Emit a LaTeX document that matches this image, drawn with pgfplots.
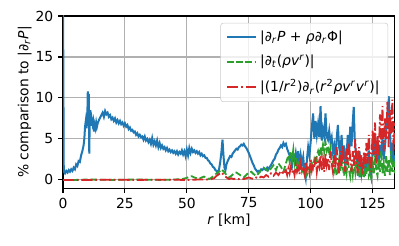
\documentclass[border=0pt]{standalone}
\usepackage{pgfplots}
\pgfplotsset{compat=1.18}
\usepackage{fontspec}
\setmainfont{DejaVu Sans}
\definecolor{mblue}{HTML}{1F77B4}
\definecolor{mgreen}{HTML}{2CA02C}
\definecolor{mred}{HTML}{D62728}
\begin{document}
\begin{tikzpicture}
\begin{axis}[
  scale only axis, width=239pt, height=124pt,
  xmin=0, xmax=134, ymin=-1, ymax=20,
  xtick={0,25,50,75,100,125}, ytick={0,5,10,15,20},
  tick align=outside, tick pos=left,
  major tick length=3.5pt,
  every tick/.style={black, line width=0.8pt},
  axis line style={line width=0.8pt},
  grid=major, major grid style={color=black!31, line width=0.8pt},
  /pgf/number format/assume math mode=true,
  tick label style={font=\fontsize{10}{12}\selectfont},
  xlabel={\textit{r} [km]}, ylabel={\% comparison to |∂\textsubscript{\textit{r}}\textit{P}|},
  label style={font=\fontsize{10}{12}\selectfont},
  xlabel style={yshift=3pt},
  ylabel style={yshift=-4pt},
  legend style={at={(0.98,0.96)}, anchor=north east, draw=black!20, fill=white, fill opacity=0.8, text opacity=1, rounded corners=2pt, font=\fontsize{10}{12}\selectfont, row sep=4.5pt, inner xsep=4pt, inner ysep=3.5pt},
  legend cell align=left,
  legend image code/.code={\draw[#1] (0pt,0pt) -- (21pt,0pt);},
]
\addplot[mblue, line width=1.45pt] coordinates {
(0,22) (0.3,1.0) (0.8,0.8) (1.3,1.1) (1.8,0.9) (2.3,1.2) (2.8,1.0) (3.3,1.3) (3.8,1.1) (4.3,1.5) (4.8,1.3) (5.3,1.9) (5.8,1.7) (6.3,2.3) (6.8,2.2) (7.3,3.0) (7.8,3.5) (8.3,4.2) (8.6,5.0) (8.9,6.5) (9.2,7.2) (9.5,6.3) (9.8,7.5) (10.0,10.8) (10.2,9.0) (10.4,10.5) (10.6,3.2) (10.8,7.8) (11.0,8.5) (11.3,6.6) (11.6,7.4) (11.9,6.8) (12.2,7.2) (12.5,5.9) (12.8,6.7) (13.1,6.3) (13.4,7.0) (13.7,6.5) (14.0,6.9) (14.5,7.3) (15.0,7.6) (15.5,7.9) (16.0,8.2) (16.5,7.7) (17.0,8.4) (17.5,8.0) (18.0,8.2) (18.5,7.7) (19.0,7.9) (19.5,7.4) (20.0,7.6) (20.5,7.2) (21.0,7.5) (21.5,7.0) (22.0,7.3) (22.5,6.9) (23.0,7.2) (23.5,6.8) (24.0,7.0) (24.5,6.6) (25.0,6.9) (25.5,6.5) (26.0,6.7) (26.5,6.2) (27.0,6.4) (27.5,6.0) (28.0,6.1) (28.5,5.8) (29.0,5.9) (29.5,5.5) (30.0,5.7) (30.5,5.3) (31.0,5.5) (31.5,5.2) (32.0,5.3) (32.5,4.9) (33.0,5.3) (33.5,4.8) (34.0,5.0) (34.5,4.6) (35.0,4.9) (35.5,4.4) (36.0,5.1) (36.5,4.3) (37.0,4.7) (37.5,4.2) (38.0,4.8) (38.5,4.0) (39.0,4.5) (39.5,3.9) (40.0,4.2) (40.5,3.8) (41.0,4.0) (41.5,3.6) (42.0,3.9) (42.5,3.5) (43.0,3.7) (43.5,3.4) (44.0,3.6) (44.5,3.3) (45.0,3.5) (45.5,3.2) (46.0,3.5) (46.5,3.1) (47.0,3.4) (47.5,3.2) (48.0,3.6) (48.5,3.1) (49.0,3.5) (49.5,2.9) (50.0,3.7) (50.5,3.0) (51.0,3.9) (51.5,3.3) (52.0,3.8) (52.5,3.4) (53.0,3.6) (53.5,3.3) (54.0,3.5) (54.5,3.2) (55.0,3.4) (55.5,3.0) (56.0,3.2) (56.5,2.9) (57.0,3.0) (57.5,2.7) (58.0,2.7) (58.5,2.4) (59.0,2.3) (59.5,2.0) (60.0,1.9) (60.5,1.6) (61.0,1.5) (61.5,1.2) (62.0,1.1) (62.5,0.8) (63.0,1.3) (63.5,2.2) (64.0,3.5) (64.4,4.9) (64.8,3.0) (65.2,1.5) (65.6,1.2) (66.0,1.9) (66.5,2.3) (67.0,2.6) (67.5,2.9) (68.0,2.8) (68.5,3.2) (69.0,3.4) (69.5,3.6) (70.0,3.8) (70.5,3.7) (71.0,4.0) (71.5,4.1) (72.0,4.3) (72.5,4.2) (73.0,4.4) (73.5,4.1) (74.0,3.9) (74.5,3.6) (75.0,3.3) (75.5,2.9) (76.0,2.5) (76.5,2.1) (77.0,1.8) (77.5,1.4) (78.0,1.2) (78.5,1.0) (79.0,1.1) (79.5,1.0) (80.0,1.3) (80.5,1.2) (81.0,1.4) (81.5,1.3) (82.0,1.2) (82.5,1.5) (83.0,1.3) (83.5,1.6) (84.0,1.8) (84.5,2.1) (85.0,2.4) (85.5,2.6) (86.0,3.1) (86.5,3.3) (87.0,3.7) (87.5,3.9) (88.0,4.2) (88.5,4.0) (89.0,4.5) (89.5,4.2) (90.0,4.4) (90.5,3.8) (91.0,3.4) (91.5,3.0) (92.0,2.6) (92.5,1.8) (93.0,3.0) (93.5,2.4) (94.0,3.3) (94.5,2.2) (95.0,3.5) (95.5,1.6) (96.0,3.0) (96.5,2.0) (97.0,2.8) (97.5,1.0) (98.0,0.2) (98.5,2.5) (99.0,4.0) (99.5,3.0) (100.0,4.6) (100.5,6.5) (101.0,8.1) (101.5,5.0) (102.0,7.2) (102.5,5.5) (103.0,6.8) (103.5,5.2) (104.0,9.0) (104.5,4.8) (105.0,6.2) (105.5,5.4) (106.0,8.1) (106.5,5.3) (107.0,4.9) (107.5,6.0) (108.0,4.6) (108.5,5.2) (109.0,3.4) (109.5,4.2) (110.0,2.6) (110.5,5.0) (111.0,6.7) (111.5,4.0) (112.0,3.1) (112.5,5.5) (113.0,2.4) (113.5,4.2) (114.0,1.6) (114.5,3.0) (115.0,5.5) (115.5,3.2) (116.0,6.5) (116.5,4.1) (117.0,7.0) (117.4,8.9) (117.8,5.0) (118.2,3.5) (118.6,2.2) (119.0,3.5) (119.5,1.4) (120.0,2.5) (120.5,0.8) (121.0,2.0) (121.5,1.8) (122.0,0.5) (122.5,2.5) (123.0,1.2) (123.5,3.6) (124.0,1.0) (124.3,0.6) (124.8,2.2) (125.2,4.3) (125.6,3.0) (126.0,5.5) (126.5,2.8) (127.0,3.5) (127.5,1.5) (128.0,4.3) (128.5,3.0) (129.0,5.0) (129.5,2.5) (130.0,4.0) (130.5,6.0) (131.0,8.0) (131.6,10.2) (132.0,6.5) (132.4,3.5) (132.8,2.2) (133.2,4.5) (133.6,1.8) (134,3.0)
};
\addlegendentry{|∂\textsubscript{\textit{r}}\textit{P} + \textit{ρ}∂\textsubscript{\textit{r}}Φ|}
\addplot[mgreen, line width=1.3pt, dash pattern=on 4.6pt off 2pt] coordinates {
(0,0) (5,0) (10,0.05) (20,0) (30,0.05) (40,0) (45,0.05) (48,0.1) (50,0.25) (51,0.4) (52,0.45) (53,0.3) (54,0.2) (55,0.15) (56,0.3) (57,0.4) (58,0.25) (59,0.1) (60,0.3) (61,0.5) (62,0.8) (63,1.0) (64,1.3) (65,1.0) (66,0.6) (67,0.3) (68,0.5) (69,0.8) (70,0.9) (71,0.7) (72,0.5) (73,0.3) (74,0.6) (75,0.9) (76,1.0) (77,0.7) (78,0.5) (79,0.8) (80,1.2) (81,1.5) (82,1.3) (83,1.0) (84,1.4) (85,1.8) (86,1.2) (87,2.0) (88,1.6) (89,1.0) (90,2.0) (91,3.0) (91.5,2.2) (92,3.4) (92.5,2.5) (93,3.7) (93.5,2.0) (94,2.8) (94.5,1.5) (95,2.4) (95.5,1.2) (96,2.0) (96.5,1.0) (97,1.4) (97.5,0.8) (98,1.2) (98.5,0.6) (99,1.0) (99.5,1.5) (100,0.8) (100.5,2.0) (101,1.5) (101.5,2.5) (102,2.0) (102.5,3.0) (103,3.5) (103.5,2.8) (104,4.0) (104.5,3.2) (105,4.3) (105.5,3.5) (106,4.6) (106.5,3.6) (107,4.2) (107.5,3.0) (108,3.8) (108.5,2.5) (109,2.2) (109.5,1.0) (110,1.6) (110.5,0.5) (111,1.2) (111.5,2.5) (112,1.0) (112.5,3.0) (113,1.5) (113.5,0.5) (114,1.8) (114.5,0.8) (115,2.6) (115.5,1.2) (116,0.4) (116.5,1.8) (117,0.6) (117.5,2.2) (118,1.0) (118.5,3.0) (119,0.5) (119.5,1.6) (120,0.3) (120.5,2.0) (121,0.8) (121.5,0.2) (122,1.5) (122.5,0.6) (123,2.4) (123.5,0.5) (124,1.0) (124.5,0.2) (125,2.0) (125.5,0.8) (126,3.0) (126.5,1.2) (127,0.5) (127.5,2.5) (128,1.0) (128.5,3.5) (129,0.8) (129.5,2.0) (130,0.5) (130.5,3.0) (131,1.0) (131.5,2.5) (132,0.6) (132.5,3.5) (133,1.0) (133.5,2.5) (134,0.8)
};
\addlegendentry{|∂\textsubscript{\textit{t}}(\textit{ρv}\textsuperscript{\textit{r}})|}
\addplot[mred, line width=1.3pt, dash pattern=on 8pt off 2pt on 1.3pt off 2pt] coordinates {
(0,0) (10,0) (20,0.02) (30,0) (40,0.03) (50,0) (55,0.05) (58,0.05) (60,0.1) (61,0.2) (62,0.5) (63,0.7) (64,0.9) (65,0.6) (66,0.3) (67,0.1) (68,0.2) (69,0.1) (70,0.2) (71,0.1) (72,0.15) (73,0.1) (74,0.2) (75,0.3) (76,0.2) (77,0.1) (78,0.3) (79,0.2) (80,0.4) (81,0.3) (82,0.6) (83,0.4) (84,0.8) (85,0.5) (86,0.9) (87,0.6) (88,1.1) (89,0.7) (90,1.2) (90.5,0.6) (91,1.4) (91.5,0.8) (92,1.6) (92.5,0.9) (93,1.3) (93.5,0.6) (94,1.8) (94.5,1.0) (95,1.5) (95.5,0.7) (96,2.0) (96.5,1.1) (97,1.6) (97.5,0.8) (98,2.2) (98.5,1.2) (99,1.8) (99.5,0.9) (100,2.4) (100.5,1.2) (101,2.0) (101.5,1.5) (102,2.8) (102.5,1.0) (103,2.2) (103.5,1.6) (104,3.0) (104.5,1.2) (105,2.5) (105.5,1.0) (106,3.2) (106.5,1.8) (107,2.6) (107.5,1.2) (108,3.5) (108.5,2.0) (109,1.0) (109.5,3.0) (110,1.5) (110.5,4.0) (111,2.0) (111.5,0.8) (112,3.5) (112.5,1.5) (113,4.2) (113.5,2.2) (114,1.0) (114.5,3.8) (115,1.8) (115.5,4.5) (116,2.5) (116.5,1.0) (117,3.5) (117.5,1.8) (118,5.0) (118.5,2.2) (119,0.8) (119.5,4.0) (120,1.5) (120.5,3.0) (121,0.6) (121.5,3.5) (122,1.5) (122.5,4.5) (123,2.0) (123.5,5.5) (124,2.5) (124.5,1.0) (125,6.0) (125.5,3.0) (126,7.0) (126.5,2.0) (127,5.5) (127.5,3.0) (128,8.0) (128.5,4.5) (129,9.0) (129.5,3.5) (130,7.5) (130.5,5.0) (131,9.5) (131.5,4.0) (132,8.5) (132.5,5.5) (133,9.8) (133.5,3.5) (134,7.0)
};
\addlegendentry{|(1/\textit{r}\textsuperscript{2})∂\textsubscript{\textit{r}}(\textit{r}\textsuperscript{2}\textit{ρv}\textsuperscript{\textit{r}}\textit{v}\textsuperscript{\textit{r}})|}
\end{axis}
\pgfresetboundingbox
\path (-45.4pt,-41pt) rectangle (242pt,135.5pt);
\end{tikzpicture}
\end{document}
